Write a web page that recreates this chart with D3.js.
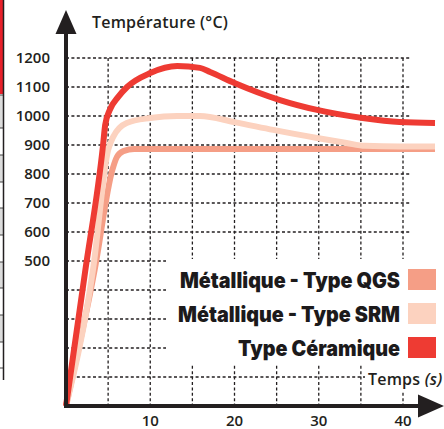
<!DOCTYPE html>
<head>
    <script type="text/javascript" src="https://d3js.org/d3.v7.min.js"></script>
    <style>
        body { margin: 0; background: #fff; }
        .tick-label { font: 600 15px "Open Sans", sans-serif; fill: #231f20; }
        .axis-title { font: 600 16px "Open Sans", sans-serif; fill: #231f20; letter-spacing: 0.2px; }
        .legend text { font: 900 21px Inter, sans-serif; fill: #1c1a1b; text-anchor: end; }
        .grid line { stroke: #231f20; stroke-width: 1.3; stroke-dasharray: 3,2.4; }
    </style>
</head>
<body>
<svg class="chart" width="444" height="429"></svg>

<script>
    // temps (s) / temperature (C)
    var qgs = [[0, 0], [3.4, 469], [5.5, 814], [6.05, 859], [6.8, 879], [8.1, 886], [15, 886], [25, 886], [35, 886], [43.8, 886]];
    var srm = [[0, 0], [3.2, 469], [5.0, 883], [5.6, 928], [7.2, 976], [10, 993], [13.2, 1000], [15.9, 1000],
               [20, 979], [24.6, 952], [29.8, 924], [33.3, 907], [35.5, 897], [39.6, 895], [43.8, 895]];
    var ceramic = [[0, 0], [2.25, 459], [4.4, 900], [4.65, 969], [5.2, 1021], [6.2, 1066], [7.25, 1100], [10, 1148],
                   [13.2, 1172], [15.9, 1166], [17.1, 1152], [20, 1114], [25.4, 1055], [29.8, 1021],
                   [35.2, 993], [39.6, 979], [43.8, 976]];

    var seriesNames = ["Métallique - Type QGS", "Métallique - Type SRM", "Type Céramique"];
    var seriesColors = ["#f59e86", "#fcd2bf", "#ee3b33"];

    var yGrid = [100, 200, 300, 400, 500, 600, 700, 800, 900, 1000, 1100, 1200];
    var yLabels = [500, 600, 700, 800, 900, 1000, 1100, 1200];
    var xGrid = [5, 10, 15, 20, 25, 30, 35, 40];
    var xLabels = [10, 20, 30, 40];

    var x = d3.scaleLinear().domain([0, 40]).range([66, 403]);
    var y = d3.scaleLinear().domain([0, 1200]).range([406, 58]);

    var chart = d3.select(".chart");

    // bit of a table cut off at the left edge
    var rows = [95, 128, 155, 182, 208, 235, 262, 288, 315, 342, 368];
    chart.append("rect").attr("x", 0).attr("y", 0).attr("width", 3).attr("height", 94).attr("fill", "#e8202a");
    rows.forEach(function(r, i) {
        if (i < rows.length - 1 && i % 2 == 0)
            chart.append("rect").attr("x", 0).attr("y", r).attr("width", 3).attr("height", rows[i + 1] - r).attr("fill", "#dcdcdc");
        chart.append("line").attr("x1", 0).attr("x2", 3).attr("y1", r).attr("y2", r).attr("stroke", "#444").attr("stroke-width", 1);
    });
    chart.append("line").attr("x1", 3.5).attr("x2", 3.5).attr("y1", 0).attr("y2", 380).attr("stroke", "#231f20").attr("stroke-width", 1.5);

    // grid
    var grid = chart.append("g").attr("class", "grid");
    grid.selectAll(".h").data(yGrid).enter().append("line")
        .attr("x1", x(0)).attr("x2", x(41))
        .attr("y1", function(d) { return y(d); })
        .attr("y2", function(d) { return y(d); });
    grid.selectAll(".v").data(xGrid).enter().append("line")
        .attr("x1", function(d) { return x(d); })
        .attr("x2", function(d) { return x(d); })
        .attr("y1", y(1200)).attr("y2", y(0));

    // white patches behind legend and x title
    chart.append("rect").attr("x", 166).attr("y", 259).attr("width", 278).attr("height", 105).attr("fill", "#fff");
    chart.append("rect").attr("x", 365).attr("y", 364).attr("width", 79).attr("height", 28).attr("fill", "#fff");

    // curves
    var line = d3.line()
        .x(function(d) { return x(d[0]); })
        .y(function(d) { return y(d[1]); })
        .curve(d3.curveMonotoneX);

    [qgs, srm, ceramic].forEach(function(s, i) {
        chart.append("path")
            .attr("d", line(s))
            .attr("fill", "none")
            .attr("stroke", seriesColors[i])
            .attr("stroke-width", 6)
            .attr("stroke-linejoin", "round");
    });

    // axes
    chart.append("line").attr("x1", x(0)).attr("x2", x(0)).attr("y1", y(0) + 2).attr("y2", 30)
        .attr("stroke", "#231f20").attr("stroke-width", 4);
    chart.append("path").attr("d", "M66,10L55.5,34L76.5,34Z").attr("fill", "#231f20");
    chart.append("line").attr("x1", x(0) - 2).attr("x2", 420).attr("y1", y(0)).attr("y2", y(0))
        .attr("stroke", "#231f20").attr("stroke-width", 4);
    chart.append("path").attr("d", "M444,406L418,394.5L418,417.5Z").attr("fill", "#231f20");

    chart.selectAll(".ylab").data(yLabels).enter().append("text")
        .attr("class", "tick-label")
        .attr("x", 50)
        .attr("y", function(d) { return y(d); })
        .attr("dy", "0.36em")
        .attr("text-anchor", "end")
        .text(function(d) { return d; });

    chart.selectAll(".xlab").data(xLabels).enter().append("text")
        .attr("class", "tick-label")
        .attr("x", function(d) { return x(d); })
        .attr("y", 426)
        .attr("text-anchor", "middle")
        .text(function(d) { return d; });

    chart.append("text").attr("class", "axis-title").attr("x", 92).attr("y", 28).text("Température (°C)");
    var xt = chart.append("text").attr("class", "axis-title").attr("x", 368).attr("y", 385);
    xt.append("tspan").text("Temps ");
    xt.append("tspan").style("font-style", "italic").text("(s)");

    // legend
    var legend = chart.append("g").attr("class", "legend");
    var legendY = [280, 314, 348];
    var legendW = [220, 222, 162];
    seriesNames.forEach(function(n, i) {
        legend.append("rect").attr("x", 408).attr("y", legendY[i] - 11).attr("width", 28).attr("height", 21)
            .attr("fill", seriesColors[i]);
        legend.append("text").attr("x", 400).attr("y", legendY[i] + 8)
            .attr("textLength", legendW[i]).attr("lengthAdjust", "spacingAndGlyphs")
            .text(n);
    });
</script>
</body>
